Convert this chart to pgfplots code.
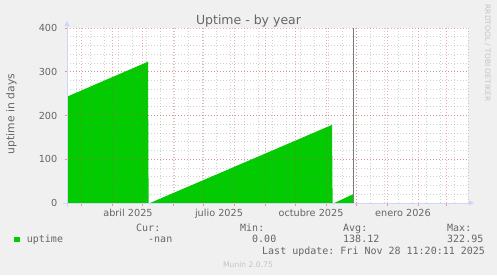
\documentclass[border=0pt]{standalone}
\usepackage{pgfplots}
\pgfplotsset{compat=1.18}
\usepackage{fontspec}
\setmainfont{DejaVu Sans}
\setmonofont{DejaVu Sans Mono}
\usetikzlibrary{arrows.meta}
\definecolor{bgc}{HTML}{F0F0F0}
\definecolor{fontc}{HTML}{666666}
\definecolor{axisc}{HTML}{CFD6F8}
\definecolor{mgrid}{HTML}{D04040}
\definecolor{gridc}{HTML}{808080}
\definecolor{upt}{HTML}{00CC00}
\definecolor{nowc}{HTML}{7A7A7A}
\definecolor{faint}{HTML}{C4C4C4}
\begin{document}
\begin{tikzpicture}[x=1bp,y=1bp]
\fill[bgc] (0,0) rectangle (497,275);
\begin{axis}[
  at={(67bp,72bp)}, anchor=south west,
  width=401bp, height=175bp, scale only axis,
  xmin=-14, xmax=387, ymin=0, ymax=400,
  axis background/.style={fill=white},
  axis line style={draw=none},
  axis on top,
  xtick={0,31,61,92,122,153,184,214,245,275,306,337,365},
  xticklabels={},
  minor xtick={-5,9,...,387},
  extra x ticks={47,138,230,322},
  extra x tick labels={abril 2025,julio 2025,octubre 2025,enero 2026},
  extra x tick style={grid=none, major tick length=0pt},
  ytick={0,100,200,300,400},
  minor ytick={20,40,...,380},
  grid=both,
  major grid style={mgrid, opacity=0.42, dash pattern=on 1bp off 2bp, line width=0.8bp},
  minor grid style={gridc, opacity=0.35, dash pattern=on 1bp off 2bp, line width=0.8bp},
  tick align=outside,
  major tick length=2.5bp, minor tick length=0pt,
  major tick style={mgrid, opacity=0.5, line width=0.8bp},
  xtick pos=bottom, ytick pos=left,
  /pgf/number format/assume math mode=true,
  tick label style={font=\fontsize{9.7bp}{11bp}\selectfont, text=fontc, inner sep=0pt},
  xticklabel style={anchor=base, yshift=-13bp},
  yticklabel style={anchor=east, xshift=-7bp},
  clip=true,
]
\addplot[fill=upt, draw=none] coordinates {
  (-14,0) (-14,243) (67,322.95) (67.6,0) (69,0) (251,178.5) (251.6,0)
  (253.2,0) (272.5,20.5) (272.5,0)
} \closedcycle;
\addplot[nowc, line width=1.1bp] coordinates {(272.5,0) (272.5,400)};
\end{axis}
% axis lines with arrows
\draw[axisc, line width=1bp, -{Triangle[length=5bp,width=5bp]}] (63,72) -- (474,72);
\draw[axisc, line width=1bp, -{Triangle[length=5bp,width=5bp]}] (67,68) -- (67,254);
% title and labels
\node[anchor=base, inner sep=0pt, text=fontc, font=\fontsize{12.5bp}{14bp}\selectfont] at (248.5,251) {Uptime - by year};
\node[anchor=base, inner sep=0pt, text=fontc, rotate=90, font=\fontsize{10.8bp}{12bp}\selectfont] at (14.3,161) {uptime in days};
\node[anchor=base, inner sep=0pt, text=faint, rotate=-90, font=\fontsize{7.5bp}{9bp}\selectfont] at (485,222) {RRDTOOL / TOBI OETIKER};
% legend
\begin{scope}[every node/.style={anchor=base west, inner sep=0pt, text=fontc, font=\ttfamily\fontsize{10bp}{12bp}\selectfont}]
\node at (136,43.3) {Cur:};
\node at (240,43.3) {Min:};
\node at (343,43.3) {Avg:};
\node at (447,43.3) {Max:};
\node at (26.7,32.4) {uptime};
\node at (148,32.4) {-nan};
\node at (252,32.4) {0.00};
\node at (343,32.4) {138.12};
\node at (447,32.4) {322.95};
\node at (262,20.7) {Last update: Fri Nov 28 11:20:11 2025};
\end{scope}
\fill[upt] (14,32.6) rectangle (19.5,38.1);
\node[anchor=base, inner sep=0pt, text=faint, font=\fontsize{7.6bp}{9bp}\selectfont] at (248,7.7) {Munin 2.0.75};
\pgfresetboundingbox
\useasboundingbox (0,0) rectangle (497,275);
\end{tikzpicture}
\end{document}
